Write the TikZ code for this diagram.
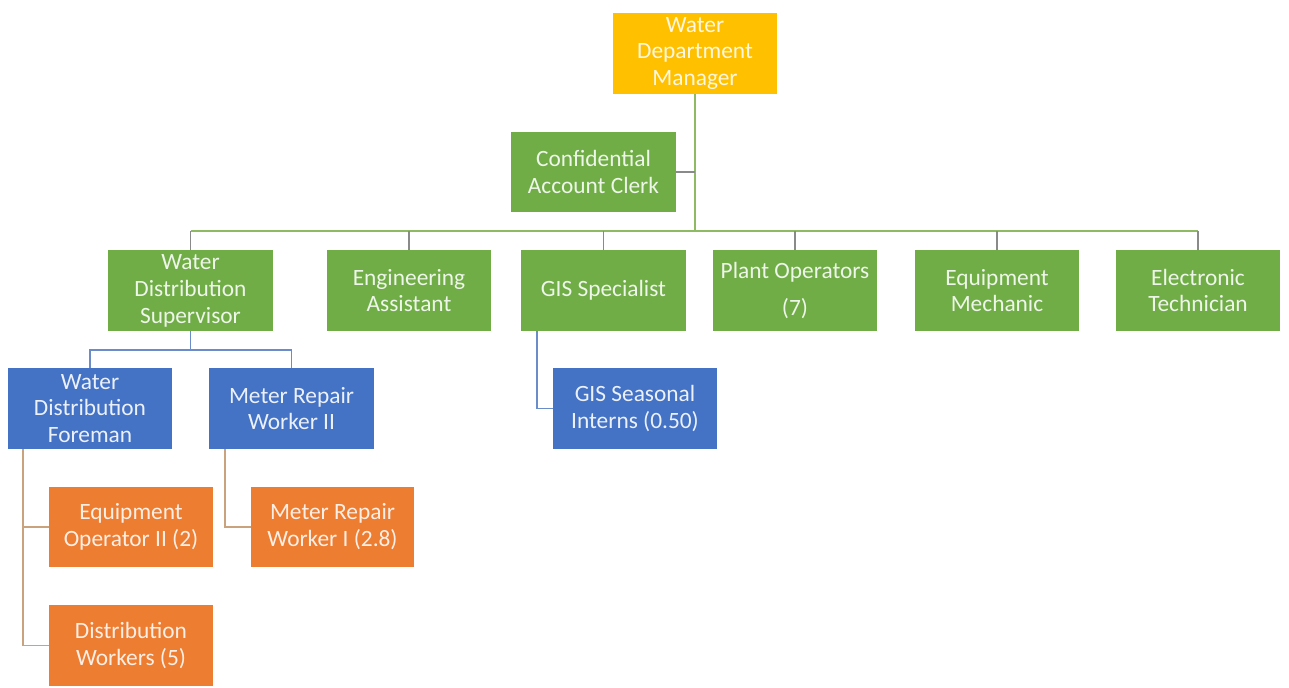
\documentclass[tikz,border=0pt]{standalone}
\usepackage{fontspec}
\setmainfont{Carlito}
\begin{document}
\begin{tikzpicture}[x=0.02cm,y=-0.02cm,
  box/.style={rectangle, inner sep=0pt, align=center, minimum width=3.3cm, minimum height=1.62cm,
    font=\fontsize{13.3}{15.3}\selectfont},
  ybox/.style={box, fill=cYel, text=cYel!12!white},
  gbox/.style={box, fill=cGrn, text=cGrn!12!white},
  bbox/.style={box, fill=cBlu, text=cBlu!10!white},
  obox/.style={box, fill=cOra, text=cOra!12!white},
  trunk/.style={draw=cGrnL, line width=1.4pt},
  drop/.style={draw=cGray, line width=0.9pt},
  bline/.style={draw=cBluL, line width=1.1pt},
  oline/.style={draw=cOraL, line width=1.1pt}]
\definecolor{cYel}{HTML}{FFC000}
\definecolor{cGrn}{HTML}{70AD47}
\definecolor{cBlu}{HTML}{4472C4}
\definecolor{cOra}{HTML}{ED7D31}
\definecolor{cGrnL}{HTML}{8DBA62}
\definecolor{cGray}{HTML}{8A8A8A}
\definecolor{cBluL}{HTML}{6A8CC8}
\definecolor{cOraL}{HTML}{C9A27E}
\useasboundingbox[fill=white] (0,0) rectangle (1289,687);

% nodes
\node[ybox, minimum width=3.28cm] (mgr) at (695,53.5) {Water\\Department\\Manager};
\node[gbox, minimum height=1.6cm] (clerk) at (593.5,172) {Confidential\\Account Clerk};

\node[gbox] (sup)   at (190.5,290.5) {Water\\Distribution\\Supervisor};
\node[gbox] (eng)   at (409,290.5)   {Engineering\\Assistant};
\node[gbox] (gis)   at (603.5,290.5) {GIS Specialist};
\node[gbox, minimum width=3.28cm] (plant) at (795,290.5) {Plant Operators\\[6pt](7)};
\node[gbox, minimum width=3.28cm] (mech)  at (997,290.5) {Equipment\\Mechanic};
\node[gbox, minimum width=3.28cm] (elec)  at (1198,290.5) {Electronic\\Technician};

\node[bbox, minimum width=3.28cm] (fore) at (90,408.5)   {Water\\Distribution\\Foreman};
\node[bbox] (mr2)  at (291.5,408.5) {Meter Repair\\Worker II};
\node[bbox, minimum width=3.28cm] (int)  at (635,408.5)   {GIS Seasonal\\Interns (0.50)};

\node[obox, minimum width=3.28cm, minimum height=1.6cm] (eqop) at (131,527)   {Equipment\\Operator II (2)};
\node[obox, minimum width=3.26cm, minimum height=1.6cm] (mr1)  at (332.5,527) {Meter Repair\\Worker I (2.8)};
\node[obox, minimum width=3.28cm] (dw)   at (131,645.5) {Distribution\\Workers (5)};

% bus coordinates
\coordinate (busL) at (190.5,231);
\coordinate (busR) at (1198,231);

% green trunk
\draw[trunk] (mgr.south) -- (mgr.south |- busL);
\draw[trunk] (busL) -- (busR);
\draw[drop] (clerk.east) -- (clerk.east -| mgr.south);
\foreach \n in {sup,eng,gis,plant,mech,elec}
  \draw[drop] (\n.north) -- (\n.north |- busL);

% blue lines
\draw[bline] (sup.south) -- ++(0,19) coordinate (bj);
\draw[bline] (fore.north) |- (bj) -| (mr2.north);
\draw[bline] ([xshift=0.32cm]gis.south west) |- (int.west);

% orange lines
\draw[oline] ([xshift=0.3cm]fore.south west) |- (eqop.west);
\draw[oline] ([xshift=0.3cm]fore.south west) |- (dw.west);
\draw[oline] ([xshift=0.32cm]mr2.south west) |- (mr1.west);
\end{tikzpicture}
\end{document}
